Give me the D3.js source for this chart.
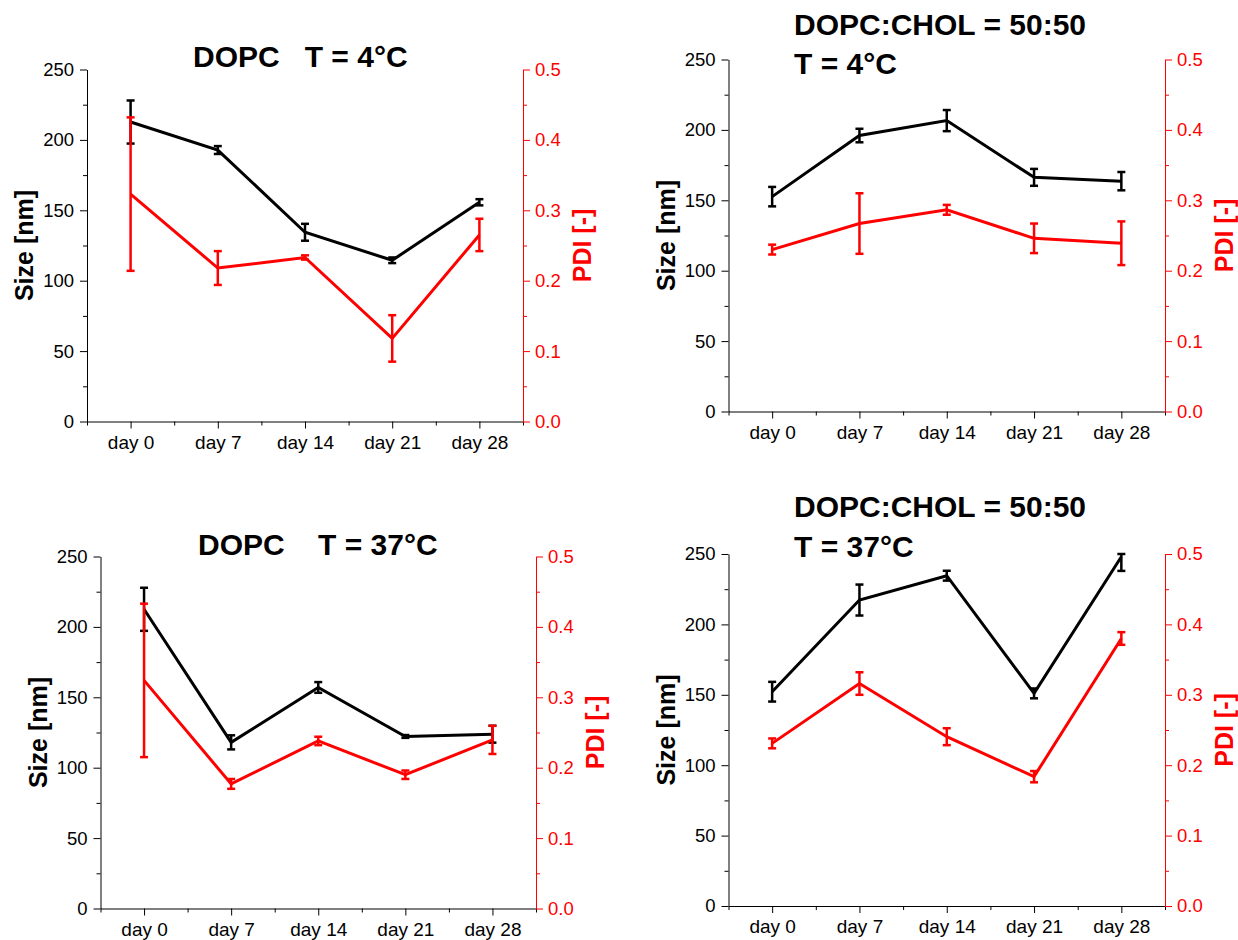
<!DOCTYPE html>
<html>
<head>
<meta charset="utf-8">
<script src="https://cdn.jsdelivr.net/npm/d3@7"></script>
<style>
  html, body { margin: 0; padding: 0; background: #fff; }
  svg { display: block; font-family: "Liberation Sans", Arial, sans-serif; }
  .ttl { font-weight: bold; font-size: 30px; white-space: pre; }
</style>
</head>
<body>
<svg id="chart" width="1238" height="940"></svg>
<script>
// ---------- data ----------
const days = ["day 0", "day 7", "day 14", "day 21", "day 28"];
const sizeTicks = [0, 50, 100, 150, 200, 250];
const pdiTicks = [0.0, 0.1, 0.2, 0.3, 0.4, 0.5];

// DOPC, T = 4°C
const dopc4Size    = [212.7, 192.8, 134.4, 114.5, 155.7];
const dopc4SizeErr = [15.3, 2.8, 6.0, 2.0, 2.2];
const dopc4Pdi     = [0.323, 0.218, 0.233, 0.118, 0.265];
const dopc4PdiErr  = [0.109, 0.024, 0.003, 0.033, 0.023];

// DOPC:CHOL = 50:50, T = 4°C
const chol4Size    = [152.6, 196.0, 206.6, 166.3, 163.6];
const chol4SizeErr = [6.9, 4.8, 7.5, 6.0, 6.5];
const chol4Pdi     = [0.230, 0.267, 0.2865, 0.246, 0.239];
const chol4PdiErr  = [0.007, 0.043, 0.007, 0.021, 0.031];

// DOPC, T = 37°C
const dopc37Size    = [212.5, 118.0, 157.0, 122.2, 123.8];
const dopc37SizeErr = [15.3, 5.0, 3.8, 1.0, 6.0];
const dopc37Pdi     = [0.324, 0.177, 0.238, 0.190, 0.2395];
const dopc37PdiErr  = [0.109, 0.007, 0.006, 0.006, 0.020];

// DOPC:CHOL = 50:50, T = 37°C
const chol37Size    = [152.2, 217.3, 234.6, 151.0, 248.0];
const chol37SizeErr = [7.0, 11.0, 3.5, 3.5, 10.0];
const chol37Pdi     = [0.231, 0.316, 0.2405, 0.1837, 0.380];
const chol37PdiErr  = [0.007, 0.016, 0.012, 0.008, 0.009];

// ---------- layout ----------
const panels = [
  { box: [87, 523, 69.5, 421.5], size: dopc4Size, sizeErr: dopc4SizeErr, pdi: dopc4Pdi, pdiErr: dopc4PdiErr,
    titles: [{ t: "DOPC   T = 4°C", x: 193, y: 66.5 }] },
  { box: [728.5, 1165, 59.5, 411.5], size: chol4Size, sizeErr: chol4SizeErr, pdi: chol4Pdi, pdiErr: chol4PdiErr,
    titles: [{ t: "DOPC:CHOL = 50:50", x: 794, y: 34.5 }, { t: "T = 4°C", x: 794, y: 74 }] },
  { box: [100.5, 536, 556.5, 908.5], size: dopc37Size, sizeErr: dopc37SizeErr, pdi: dopc37Pdi, pdiErr: dopc37PdiErr,
    titles: [{ t: "DOPC    T = 37°C", x: 198, y: 555 }] },
  { box: [728.5, 1165, 554, 906], size: chol37Size, sizeErr: chol37SizeErr, pdi: chol37Pdi, pdiErr: chol37PdiErr,
    titles: [{ t: "DOPC:CHOL = 50:50", x: 794, y: 517 }, { t: "T = 37°C", x: 794, y: 557 }] }
];

const RED = "#ff0000";
const svg = d3.select("#chart");

panels.forEach(p => {
  const [x0, x1, yTop, yBot] = p.box;
  const g = svg.append("g");
  const x = d3.scaleLinear().domain([-0.5, days.length - 0.5]).range([x0, x1]);
  const yS = d3.scaleLinear().domain([0, 250]).range([yBot, yTop]).clamp(true);
  const yP = d3.scaleLinear().domain([0, 0.5]).range([yBot, yTop]).clamp(true);

  // x axis minor ticks
  g.append("g").attr("transform", `translate(0,${yBot})`)
    .call(d3.axisBottom(x).tickValues(d3.range(-0.5, days.length, 1)).tickSize(4).tickSizeOuter(0).tickFormat(""))
    .call(a => a.select(".domain").remove())
    .call(a => a.selectAll("line").attr("stroke", "#000"));
  // x axis major
  g.append("g").attr("transform", `translate(0,${yBot})`)
    .call(d3.axisBottom(x).tickValues(d3.range(days.length)).tickSize(7).tickSizeOuter(0).tickPadding(7)
      .tickFormat(i => days[i]))
    .call(a => a.selectAll("text").attr("font-size", 19).attr("fill", "#000").attr("font-family", "Liberation Sans, Arial, sans-serif"))
    .call(a => a.selectAll("line, path").attr("stroke", "#000"));

  // left axis minor
  g.append("g").attr("transform", `translate(${x0},0)`)
    .call(d3.axisLeft(yS).tickValues(d3.range(25, 250, 50)).tickSize(4).tickSizeOuter(0).tickFormat(""))
    .call(a => a.select(".domain").remove());
  // left axis major
  g.append("g").attr("transform", `translate(${x0},0)`)
    .call(d3.axisLeft(yS).tickValues(sizeTicks).tickSize(7).tickSizeOuter(0).tickPadding(6).tickFormat(d3.format("d")))
    .call(a => a.selectAll("text").attr("font-size", 18.5).attr("fill", "#000").attr("font-family", "Liberation Sans, Arial, sans-serif"))
    .call(a => a.selectAll("line, path").attr("stroke", "#000"));

  // right axis minor
  g.append("g").attr("transform", `translate(${x1},0)`)
    .call(d3.axisRight(yP).tickValues(d3.range(0.05, 0.5, 0.1)).tickSize(4).tickSizeOuter(0).tickFormat(""))
    .call(a => a.select(".domain").remove())
    .call(a => a.selectAll("line").attr("stroke", RED));
  // right axis major
  g.append("g").attr("transform", `translate(${x1},0)`)
    .call(d3.axisRight(yP).tickValues(pdiTicks).tickSize(7).tickSizeOuter(0).tickPadding(5).tickFormat(d3.format(".1f")))
    .call(a => a.selectAll("text").attr("font-size", 18.5).attr("fill", RED).attr("font-family", "Liberation Sans, Arial, sans-serif"))
    .call(a => a.selectAll("line, path").attr("stroke", RED));

  // axis titles
  const yMid = (yTop + yBot) / 2;
  g.append("text").attr("transform", `translate(${x0 - 54},${yMid}) rotate(-90)`)
    .attr("text-anchor", "middle").attr("font-weight", "bold").attr("font-size", 25).attr("fill", "#000")
    .text("Size [nm]");
  g.append("text").attr("transform", `translate(${x1 + 68},${yMid}) rotate(-90)`)
    .attr("text-anchor", "middle").attr("font-weight", "bold").attr("font-size", 25).attr("fill", RED)
    .text("PDI [-]");

  // titles
  p.titles.forEach(t => {
    g.append("text").attr("class", "ttl").attr("x", t.x).attr("y", t.y).attr("fill", "#000").text(t.t);
  });

  // series
  function series(vals, errs, yScale, color) {
    const pts = vals.map((v, i) => ({ i, v, e: errs[i] }));
    g.append("path").datum(pts)
      .attr("fill", "none").attr("stroke", color).attr("stroke-width", 3).attr("stroke-linejoin", "miter")
      .attr("d", d3.line().x(d => x(d.i)).y(d => yScale(d.v)));
    const eb = g.append("g").attr("stroke", color).attr("stroke-width", 2.5).attr("fill", "none");
    pts.forEach(d => {
      const cx = x(d.i), yt = yScale(d.v + d.e), yb = yScale(d.v - d.e);
      eb.append("line").attr("x1", cx).attr("x2", cx).attr("y1", yt).attr("y2", yb);
      eb.append("line").attr("x1", cx - 4).attr("x2", cx + 4).attr("y1", yt).attr("y2", yt);
      eb.append("line").attr("x1", cx - 4).attr("x2", cx + 4).attr("y1", yb).attr("y2", yb);
    });
  }
  series(p.size, p.sizeErr, yS, "#000");
  series(p.pdi, p.pdiErr, yP, RED);
});
</script>
</body>
</html>
